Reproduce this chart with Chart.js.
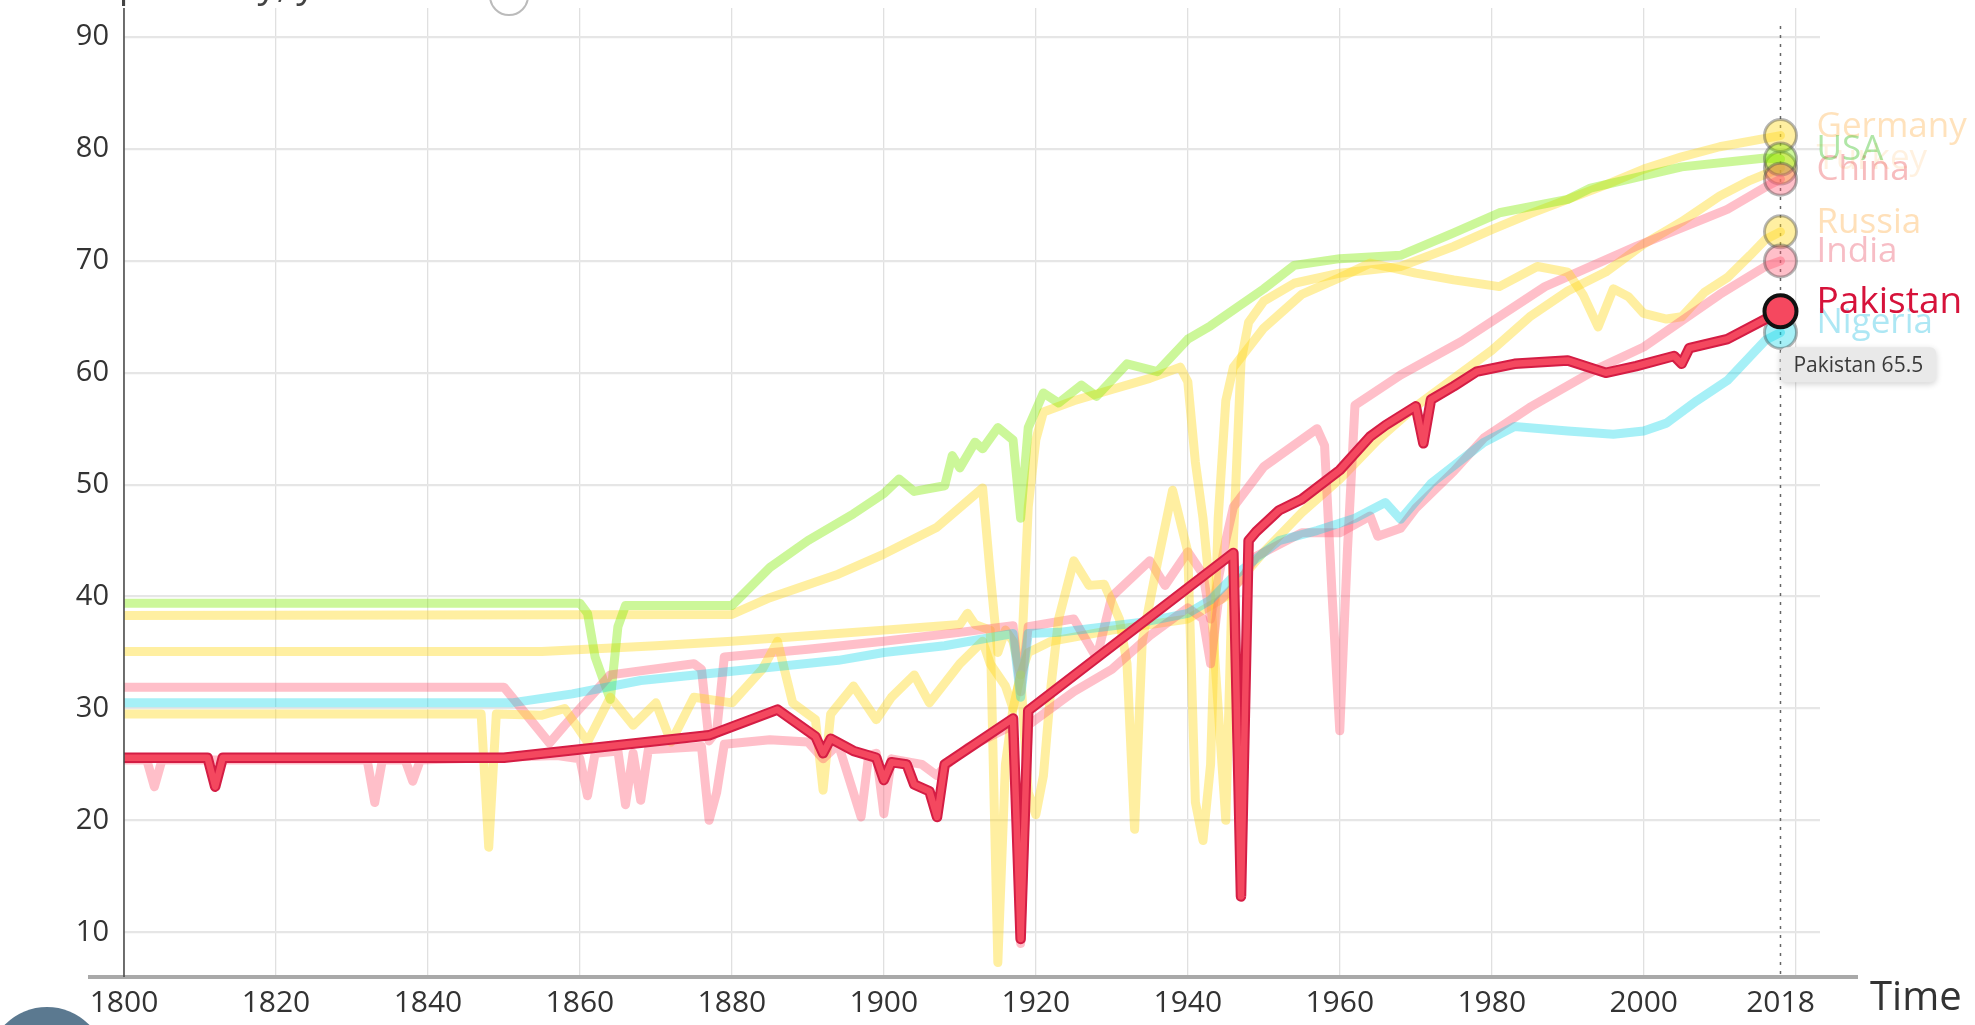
<!DOCTYPE html>
<html>
<head>
<meta charset="utf-8">
<title>Life expectancy, years</title>
<script src="https://cdn.jsdelivr.net/npm/chart.js@4.4.1/dist/chart.umd.min.js"></script>
<style>
    html, body { margin: 0; padding: 0; background: #fff; overflow: hidden; }
    #lifeChart { display: block; }
</style>
</head>
<body>
<canvas id="lifeChart" width="1975" height="1025"></canvas>
<script>
// --- datos: [año, esperanza de vida] ---
const pakistan = [[1800,25.6],[1811,25.6],[1812,23.0],[1813,25.6],[1850,25.6],[1877,27.6],[1886,29.9],[1891,27.5],[1892,26.0],[1893,27.3],[1896,26.2],[1899,25.6],[1900,23.6],[1901,25.2],[1903,25.0],[1904,23.2],[1906,22.6],[1907,20.3],[1908,25.0],[1917,29.1],[1918,9.4],[1919,29.8],[1946,43.9],[1947,13.2],[1948,45.0],[1949,45.8],[1952,47.7],[1955,48.7],[1960,51.3],[1964,54.3],[1966,55.3],[1970,57.0],[1971,53.7],[1972,57.6],[1975,58.8],[1978,60.1],[1983,60.8],[1990,61.1],[1995,60.0],[1999,60.6],[2004,61.5],[2005,60.8],[2006,62.2],[2011,63.0],[2018,65.5]];
const india = [[1800,25.4],[1803,25.4],[1804,23.0],[1805,25.4],[1832,25.4],[1833,21.6],[1834,25.4],[1837,25.4],[1838,23.5],[1839,25.4],[1857,25.8],[1860,25.5],[1861,22.2],[1862,26.0],[1865,26.2],[1866,21.4],[1867,26.0],[1868,21.8],[1869,26.3],[1876,26.6],[1877,20.0],[1878,22.5],[1879,26.8],[1885,27.2],[1890,27.0],[1892,25.5],[1894,26.8],[1897,20.3],[1898,25.8],[1899,26.0],[1900,20.6],[1901,25.5],[1905,25.0],[1907,24.0],[1908,24.8],[1911,26.5],[1917,28.5],[1918,9.0],[1919,28.5],[1925,31.5],[1930,33.5],[1935,36.5],[1940,39.0],[1942,38.0],[1943,34.0],[1944,39.5],[1947,41.5],[1949,43.6],[1955,45.7],[1960,45.7],[1964,47.2],[1965,45.4],[1968,46.1],[1970,47.9],[1975,51.2],[1979,54.2],[1985,56.9],[1994,60.4],[2000,62.3],[2010,67.0],[2016,69.5],[2018,70.0]];
const china = [[1800,31.9],[1850,31.9],[1856,26.9],[1858,28.5],[1864,33.0],[1875,34.0],[1876,33.5],[1877,27.1],[1878,28.0],[1879,34.6],[1890,35.3],[1900,36.0],[1910,36.8],[1917,37.4],[1918,31.5],[1919,37.3],[1925,38.0],[1928,34.5],[1930,40.0],[1935,43.2],[1937,41.0],[1940,44.0],[1942,42.0],[1943,38.0],[1945,45.0],[1946,48.0],[1950,51.6],[1957,55.0],[1958,53.5],[1959,40.0],[1960,28.0],[1961,44.0],[1962,57.1],[1968,59.8],[1976,62.8],[1987,67.7],[1999,71.3],[2011,74.6],[2016,76.6],[2018,77.3]];
const usa = [[1800,39.4],[1860,39.4],[1861,38.5],[1862,34.6],[1864,30.8],[1865,37.3],[1866,39.2],[1880,39.2],[1885,42.6],[1890,45.0],[1896,47.4],[1900,49.2],[1902,50.5],[1904,49.4],[1908,49.9],[1909,52.6],[1910,51.5],[1912,53.8],[1913,53.2],[1915,55.1],[1917,54.0],[1918,47.0],[1919,55.1],[1921,58.2],[1923,57.3],[1926,58.9],[1928,57.9],[1932,60.8],[1936,60.1],[1940,63.0],[1943,64.2],[1950,67.5],[1954,69.6],[1960,70.2],[1968,70.5],[1975,72.5],[1981,74.3],[1990,75.5],[1993,76.5],[2005,78.4],[2016,79.2],[2018,79.1]];
const germany = [[1800,38.3],[1880,38.4],[1885,39.9],[1894,42.0],[1900,43.8],[1907,46.2],[1913,49.7],[1914,42.0],[1915,35.0],[1916,37.0],[1917,36.0],[1918,33.0],[1919,48.0],[1920,54.0],[1921,56.5],[1925,57.5],[1930,58.5],[1935,59.5],[1939,60.5],[1940,59.2],[1941,52.0],[1942,47.0],[1943,40.0],[1944,30.0],[1945,20.0],[1946,45.0],[1947,61.0],[1948,64.5],[1950,66.4],[1954,68.0],[1960,68.9],[1968,69.5],[1975,71.3],[1980,72.8],[1985,74.2],[1990,75.5],[1995,76.8],[2000,78.2],[2005,79.3],[2010,80.2],[2018,81.2]];
const russia = [[1800,29.5],[1847,29.5],[1848,17.6],[1849,29.5],[1855,29.4],[1858,30.0],[1861,27.0],[1864,31.0],[1867,28.5],[1870,30.5],[1872,27.0],[1875,31.0],[1880,30.5],[1884,33.5],[1886,36.0],[1888,30.5],[1891,29.0],[1892,22.7],[1893,29.5],[1896,32.0],[1899,29.0],[1901,31.0],[1904,33.0],[1906,30.5],[1910,34.0],[1913,36.0],[1914,34.0],[1916,32.0],[1917,30.0],[1918,33.0],[1919,22.5],[1920,20.5],[1921,24.0],[1922,32.0],[1923,38.0],[1925,43.2],[1927,41.0],[1929,41.1],[1931,38.0],[1932,34.0],[1933,19.2],[1934,36.0],[1936,43.0],[1938,49.5],[1940,44.0],[1941,21.6],[1942,18.2],[1943,25.0],[1944,47.0],[1945,57.5],[1946,60.5],[1950,64.0],[1955,67.0],[1960,68.5],[1964,69.8],[1970,68.9],[1975,68.3],[1981,67.7],[1986,69.5],[1990,69.0],[1992,67.0],[1994,64.1],[1996,67.5],[1998,66.8],[2000,65.3],[2003,64.8],[2005,65.0],[2008,67.2],[2011,68.5],[2014,70.5],[2016,71.9],[2018,72.6]];
const turkey = [[1800,35.1],[1855,35.1],[1870,35.6],[1880,36.0],[1890,36.5],[1900,37.0],[1910,37.5],[1911,38.5],[1912,37.5],[1914,37.0],[1915,7.3],[1916,25.0],[1917,30.0],[1918,33.0],[1919,35.0],[1922,36.0],[1930,37.0],[1940,38.0],[1945,40.0],[1950,44.0],[1955,47.5],[1960,50.5],[1965,54.0],[1970,57.0],[1975,59.5],[1980,62.0],[1985,65.0],[1990,67.3],[1995,69.0],[2000,71.5],[2005,73.5],[2010,75.8],[2014,77.2],[2018,78.3]];
const nigeria = [[1800,30.5],[1851,30.5],[1859,31.3],[1868,32.5],[1881,33.4],[1894,34.3],[1900,35.0],[1908,35.6],[1917,36.7],[1918,31.0],[1919,36.7],[1923,36.8],[1934,37.7],[1940,38.5],[1943,39.7],[1946,41.8],[1952,45.0],[1957,45.9],[1962,47.0],[1966,48.4],[1968,46.9],[1972,50.1],[1979,53.8],[1983,55.2],[1990,54.8],[1996,54.5],[2000,54.8],[2003,55.5],[2007,57.5],[2011,59.3],[2016,62.9],[2018,63.6]];

const yTicks = [10, 20, 30, 40, 50, 60, 70, 80, 90];
const xTicks = [1800, 1820, 1840, 1860, 1880, 1900, 1920, 1940, 1960, 1980, 2000, 2018, 2020];
const currentYear = 2018;
const titleText = 'Life expectancy, years';
const axisText = 'Time';

const FONT = "'Open Sans', 'Noto Sans', sans-serif";

// colores por región (Gapminder)
const ASIA = 'rgba(255, 88, 114, 0.38)';
const EUROPE = 'rgba(255, 218, 30, 0.42)';
const AMERICAS = 'rgba(127, 235, 0, 0.40)';
const AFRICA = 'rgba(0, 213, 233, 0.35)';

function toXY(rows) {
    return rows.map(r => ({ x: r[0], y: r[1] }));
}

function fadedLine(name, rows, color, textColor, order) {
    return {
        label: name,
        data: toXY(rows),
        borderColor: color,
        backgroundColor: color,
        borderWidth: 9,
        tension: 0,
        borderJoinStyle: 'round',
        borderCapStyle: 'round',
        pointRadius: ctx => ctx.dataIndex === rows.length - 1 ? 16 : 0,
        pointBackgroundColor: color,
        pointBorderColor: 'rgba(70, 70, 70, 0.4)',
        pointBorderWidth: 3,
        endLabel: name,
        endLabelColor: textColor,
        order: order
    };
}

const datasets = [
    // Pakistán resaltado: contorno oscuro + línea clara encima
    {
        label: 'Pakistan',
        data: toXY(pakistan),
        borderColor: '#f4485f',
        borderWidth: 6.5,
        tension: 0,
        borderJoinStyle: 'round',
        borderCapStyle: 'round',
        pointRadius: ctx => ctx.dataIndex === pakistan.length - 1 ? 16 : 0,
        pointBackgroundColor: '#f5485f',
        pointBorderColor: '#111',
        pointBorderWidth: 4,
        endLabel: 'Pakistan',
        endLabelColor: '#d6123a',
        order: 0
    },
    {
        label: 'Pakistan (borde)',
        data: toXY(pakistan),
        borderColor: '#d41d44',
        borderWidth: 10.5,
        tension: 0,
        borderJoinStyle: 'round',
        borderCapStyle: 'round',
        pointRadius: 0,
        order: 1
    },
    fadedLine('Nigeria', nigeria, AFRICA, 'rgba(0, 180, 220, 0.32)', 2),
    fadedLine('India', india, ASIA, 'rgba(235, 90, 110, 0.40)', 3),
    fadedLine('Russia', russia, EUROPE, 'rgba(255, 170, 60, 0.36)', 4),
    fadedLine('China', china, ASIA, 'rgba(235, 95, 100, 0.42)', 5),
    fadedLine('USA', usa, AMERICAS, 'rgba(80, 200, 60, 0.45)', 6),
    fadedLine('Germany', germany, EUROPE, 'rgba(255, 170, 60, 0.34)', 7),
    fadedLine('Turkey', turkey, EUROPE, 'rgba(255, 170, 60, 0.16)', 8)
];

// línea punteada del año actual + eje x grueso
const axisDecor = {
    id: 'axisDecor',
    beforeDatasetsDraw(chart) {
        const { ctx, chartArea, scales } = chart;
        const x = scales.x.getPixelForValue(currentYear);
        ctx.save();
        ctx.strokeStyle = '#666';
        ctx.lineWidth = 1.5;
        ctx.setLineDash([3, 6]);
        ctx.beginPath();
        ctx.moveTo(x, chartArea.top + 18);
        ctx.lineTo(x, chartArea.bottom);
        ctx.stroke();
        ctx.restore();
    },
    afterDraw(chart) {
        const { ctx, chartArea } = chart;
        ctx.save();
        // eje x
        ctx.strokeStyle = '#a9a9a9';
        ctx.lineWidth = 4;
        ctx.beginPath();
        ctx.moveTo(chartArea.left - 36, chartArea.bottom);
        ctx.lineTo(chartArea.right + 38, chartArea.bottom);
        ctx.stroke();
        // eje y
        ctx.strokeStyle = '#444';
        ctx.lineWidth = 1.5;
        ctx.beginPath();
        ctx.moveTo(chartArea.left, chartArea.top);
        ctx.lineTo(chartArea.left, chartArea.bottom);
        ctx.stroke();
        // "Time"
        ctx.fillStyle = '#333';
        ctx.font = '40px ' + FONT;
        ctx.textBaseline = 'middle';
        ctx.textAlign = 'left';
        ctx.fillText(axisText, chartArea.right + 50, chartArea.bottom + 22);
        // título cortado arriba
        ctx.fillStyle = '#444';
        ctx.font = '38px ' + FONT;
        ctx.textBaseline = 'alphabetic';
        ctx.fillText(titleText, 4, -3);
        ctx.strokeStyle = '#bbb';
        ctx.lineWidth = 2;
        ctx.beginPath();
        ctx.arc(509, -4, 19, 0, Math.PI * 2);
        ctx.stroke();
        // botón de play (recortado)
        ctx.fillStyle = '#5b7990';
        ctx.beginPath();
        ctx.arc(47, 1066, 59, 0, Math.PI * 2);
        ctx.fill();
        ctx.restore();
    }
};

// etiquetas al final de cada línea + tooltip de Pakistán
const endLabels = {
    id: 'endLabels',
    afterDatasetsDraw(chart) {
        const { ctx } = chart;
        ctx.save();
        ctx.textBaseline = 'middle';
        ctx.textAlign = 'left';
        const drawOrder = [8, 7, 5, 6, 4, 3, 2, 0];
        drawOrder.forEach(i => {
            const ds = chart.data.datasets[i];
            const meta = chart.getDatasetMeta(i);
            const pt = meta.data[meta.data.length - 1];
            ctx.font = i === 0 ? '500 37px ' + FONT : '35px ' + FONT;
            ctx.fillStyle = ds.endLabelColor;
            ctx.fillText(ds.endLabel, pt.x + 36, pt.y - 9);
        });

        // tooltip
        const meta = chart.getDatasetMeta(0);
        const pt = meta.data[meta.data.length - 1];
        const last = pakistan[pakistan.length - 1];
        const text = 'Pakistan ' + last[1].toFixed(1);
        ctx.font = '21px ' + FONT;
        const w = ctx.measureText(text).width + 26;
        const bx = pt.x, by = pt.y + 36, bh = 35;
        ctx.shadowColor = 'rgba(0,0,0,0.18)';
        ctx.shadowBlur = 6;
        ctx.shadowOffsetY = 2;
        ctx.fillStyle = '#e9e9e9';
        ctx.beginPath();
        ctx.roundRect(bx, by, w, bh, 6);
        ctx.fill();
        ctx.shadowColor = 'transparent';
        ctx.fillStyle = '#3a3a3a';
        ctx.fillText(text, bx + 13, by + bh / 2 + 1);
        ctx.restore();
    }
};

new Chart(document.getElementById('lifeChart').getContext('2d'), {
    type: 'line',
    data: { datasets: datasets },
    options: {
        responsive: false,
        animation: false,
        devicePixelRatio: 1,
        events: [],
        layout: { autoPadding: false, padding: { top: 8, right: 155, left: 0, bottom: 0 } },
        plugins: {
            legend: { display: false },
            tooltip: { enabled: false }
        },
        scales: {
            x: {
                type: 'linear',
                min: 1800,
                max: 2023.2,
                afterBuildTicks: s => { s.ticks = xTicks.map(v => ({ value: v })); },
                afterFit: s => { s.height = 48; s.paddingRight = 0; },
                grid: {
                    color: ctx => (ctx.tick && ctx.tick.value === currentYear) ? 'rgba(0,0,0,0)' : '#e0e0e0',
                    lineWidth: 1.3,
                    drawTicks: false
                },
                border: { display: false },
                ticks: {
                    callback: v => v === 2020 ? '' : String(v),
                    autoSkip: false,
                    maxRotation: 0,
                    padding: 8,
                    color: '#333',
                    font: { family: FONT, size: 30 }
                }
            },
            y: {
                min: 6,
                max: 92.6,
                afterBuildTicks: s => { s.ticks = yTicks.map(v => ({ value: v })); },
                // sin relleno extra arriba/abajo: el área empieza justo en el borde
                afterFit: s => { s.width = 124; s.paddingTop = 0; s.paddingBottom = 0; },
                grid: { color: '#e6e6e6', lineWidth: 2.2, drawTicks: false },
                border: { display: false },
                ticks: {
                    padding: 15,
                    color: '#333',
                    font: { family: FONT, size: 29 }
                }
            }
        }
    },
    plugins: [axisDecor, endLabels]
});
</script>
</body>
</html>
